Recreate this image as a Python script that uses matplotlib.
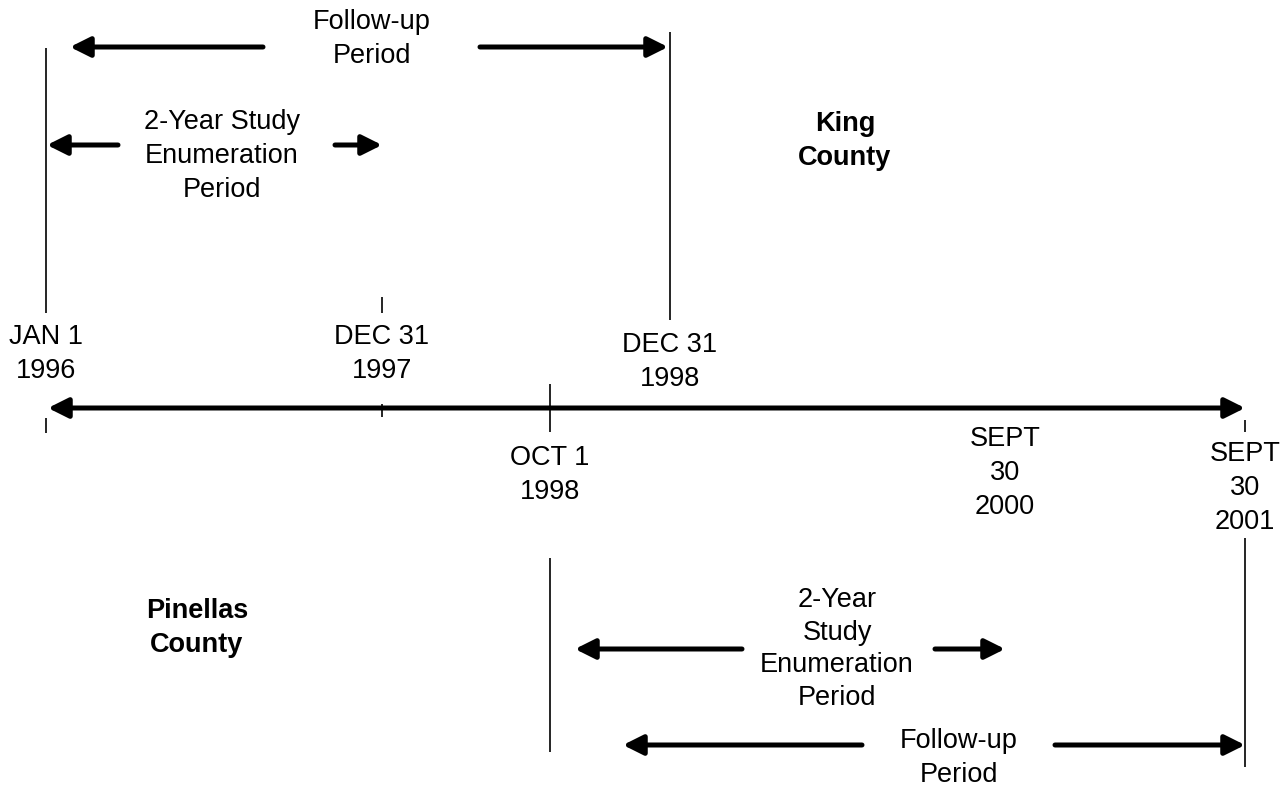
import matplotlib
matplotlib.use("Agg")
import matplotlib.pyplot as plt

plt.rcParams['font.family'] = ['Liberation Sans', 'DejaVu Sans']

# ---- content ----
top_dates = ["JAN 1\n1996", "DEC 31\n1997", "DEC 31\n1998"]
bottom_dates = ["OCT 1\n1998", "SEPT\n30\n2000", "SEPT\n30\n2001"]
top_county = "King\nCounty"
bottom_county = "Pinellas\nCounty"
top_enum_label = "2-Year Study\nEnumeration\nPeriod"
bottom_enum_label = "2-Year\nStudy\nEnumeration\nPeriod"
followup_label = "Follow-up\nPeriod"

# ---- layout (pixel canvas) ----
W, H = 1282, 786
fig = plt.figure(figsize=(W / 100, H / 100), dpi=100)
ax = fig.add_axes([0, 0, 1, 1])
ax.set_xlim(0, W)
ax.set_ylim(H, 0)
ax.axis('off')

FS = 19.5
LS = 1.42
AXIS_Y = 408
x_jan96, x_dec97, x_oct98, x_dec98, x_sep00, x_sep01 = 46, 382, 550, 670, 1005, 1245

def arrow(x0, x1, y, style='-|>'):
    ax.annotate('', xy=(x1, y), xytext=(x0, y), xycoords='data',
                arrowprops=dict(arrowstyle=f'{style},head_length=0.6,head_width=0.3',
                                lw=3.6, color='black', shrinkA=0, shrinkB=0,
                                mutation_scale=20))

def vline(x, y0, y1):
    ax.plot([x, x], [y0, y1], color='black', lw=1.2, solid_capstyle='butt')

def label(x, y, s, bold=False, ls=LS):
    ax.text(x, y, s, ha='center', va='center', fontsize=FS,
            fontweight='bold' if bold else 'normal', linespacing=ls)

# main timeline
arrow(x_jan96 + 2, x_sep01, AXIS_Y, style='<|-|>')

# vertical markers
vline(x_jan96, 48, 313)
vline(x_jan96, 418, 433)
vline(x_dec97, 297, 313)
vline(x_dec97, 404, 417)
vline(x_dec98, 32, 320)
vline(x_oct98, 384, 432)
vline(x_oct98, 558, 752)
vline(x_sep01, 420, 432)
vline(x_sep01, 538, 767)

# top date labels
label(x_jan96, 354, top_dates[0])
label(x_dec97, 354, top_dates[1])
label(x_dec98, 362, top_dates[2])

# bottom date labels
label(x_oct98, 475, bottom_dates[0])
label(x_sep00, 473, bottom_dates[1])
label(x_sep01, 488, bottom_dates[2])

# counties
label(845, 141, top_county, bold=True)
label(197, 628, bottom_county, bold=True)

# King County periods
arrow(263, 70, 47)
arrow(480, 668, 47)
label(372, 39, followup_label)

arrow(118, 47, 145)
arrow(335, 382, 145)
label(222, 156, top_enum_label)

# Pinellas County periods
arrow(742, 575, 649)
arrow(935, 1005, 649)
label(837, 649, bottom_enum_label, ls=1.33)

arrow(862, 623, 745)
arrow(1055, 1245, 745)
label(959, 758, followup_label, ls=1.36)

fig.savefig('out.png', dpi=100)
